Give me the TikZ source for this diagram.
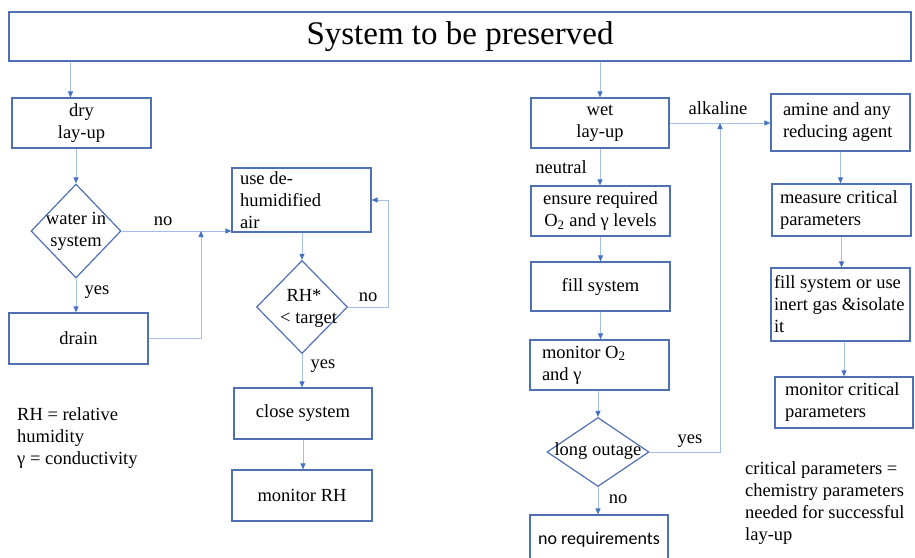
\documentclass[tikz,border=0pt]{standalone}
\usepackage{fontspec}
\setmainfont{Liberation Serif}
\newfontfamily\calfont{Carlito}
\usetikzlibrary{shapes.geometric,arrows.meta,positioning}
\definecolor{boxblue}{HTML}{4F70B4}
\definecolor{lineblue}{HTML}{A6BFE8}
\definecolor{tipblue}{HTML}{4472C4}
\tikzset{
  box/.style={draw=boxblue,line width=1.2pt,minimum width=139pt,minimum height=50pt,
    inner sep=0pt,align=flush center,font=\fontsize{18.5}{22}\selectfont},
  lbox/.style={box,align=flush left},
  dec/.style={draw=boxblue,line width=1.2pt,diamond,inner sep=0pt},
  txt/.style={inner sep=0pt,align=flush center,font=\fontsize{18.5}{22}\selectfont},
  link/.style={draw=lineblue,line width=0.9pt,-{Triangle[length=6pt,width=5pt,color=tipblue]}}
}
\begin{document}
\begin{tikzpicture}[x=1pt,y=-1pt]
    \useasboundingbox (0,0) rectangle (915,557);
    \node[box,minimum width=902pt,minimum height=49pt,font=\fontsize{33}{38}\selectfont] (title) at (460,36.5) {System to be preserved};

    % dry branch
    \node[box] (dry) at (81.5,123) {dry\\lay-up};
    \node[dec,minimum width=90pt,minimum height=94pt] (water) at (76,231) {};
    \node[txt] (waterT) at (water) {water in\\system};
    \node[box,minimum height=51pt] (drain) at (78.5,338.5) {drain};
    \node[lbox,minimum height=64pt,text width=123pt] (dehum) at (301.5,200) {use de-\\humidified\\air};
    \node[dec,minimum width=91pt,minimum height=93pt] (rh) at (302,307) {};
    \node[txt] (rhT) at (304,308.5) {RH*\\\,\,\,\textless{} target};
    \node[box,minimum width=138pt,minimum height=51pt] (close) at (303,413.5) {close system};
    \node[box,minimum width=140pt,minimum height=51pt] (monrh) at (302,495.5) {monitor RH};

    % wet branch
    \node[box,minimum width=138pt] (wet) at (600,123) {wet\\lay-up};
    \node[box] (ensure) at (600.5,211) {ensure required\\O\textsubscript{2} and γ levels};
    \node[box,minimum height=49pt] (fill) at (600.5,286.5) {fill system};
    \node[lbox,text width=115pt] (mono) at (599.5,365) {monitor O\textsubscript{2}\\and γ};
    \node[dec,minimum width=102pt,minimum height=69pt] (outage) at (598,452) {};
    \node[txt] (outageT) at (598,451) {long outage};
    \node[box,minimum width=138pt,font=\calfont\fontsize{18}{22}\selectfont] (noreq) at (599,540) {\raisebox{4pt}{no requirements}};

    \node[lbox,minimum height=57pt,text width=115pt] (amine) at (840.5,122.5) {amine and any\\reducing agent};
    \node[lbox,minimum height=52pt,text width=123pt] (measure) at (841.5,210) {measure critical\\parameters};
    \node[lbox,minimum height=73pt,text width=133pt] (fillor) at (840.5,304.5) {fill system or use\\inert gas \&isolate\\it};
    \node[lbox,minimum width=138pt,minimum height=51pt,text width=118pt] (moncrit) at (844,402.5) {monitor critical\\parameters};

    \coordinate (jn) at (201,231);
    \coordinate (alk) at (720,123);

    \draw[link] ([xshift=-11pt]dry.north |- title.south) -- ([xshift=-11pt]dry.north);
    \draw[link] (water.north |- dry.south) -- (water.north);
    \draw[link] (water.south) -- (water.south |- drain.north);
    \draw[link] (water.east) -- (water.east -| dehum.west);
    \draw[link] (drain.east) -| (jn);
    \draw[link] (rh.north |- dehum.south) -- (rh.north);
    \draw[link] (rh.east) -| ([xshift=17pt]dehum.east) -- (dehum.east);
    \draw[link] (rh.south) -- (rh.south |- close.north);
    \draw[link] (close.south) -- (close.south |- monrh.north);

    \draw[link] (wet.north |- title.south) -- (wet.north);
    \draw[link] (wet.east) -- (wet.east -| amine.west);
    \draw[link] (wet.south) -- (wet.south |- ensure.north);
    \draw[link] (ensure.south) -- (ensure.south |- fill.north);
    \draw[link] (fill.south) -- (fill.south |- mono.north);
    \draw[link] (outage.north |- mono.south) -- (outage.north);
    \draw[link] (outage.south) -- (outage.south |- noreq.north);
    \draw[link] (outage.east) -| (alk);
    \draw[link] (amine.south) -- (amine.south |- measure.north);
    \draw[link] (measure.south) -- (measure.south |- fillor.north);
    \draw[link] ([xshift=3.5pt]fillor.south) -- ([xshift=3.5pt]fillor.south |- moncrit.north);

    % branch labels
    \node[txt] (lno1) at (163,221) {no};
    \node[txt] (lyes1) at (97,292) {yes};
    \node[txt] (lno2) at (368,297) {no};
    \node[txt] (lyes2) at (323,366) {yes};
    \node[txt] (lalk) at (718,108) {alkaline};
    \node[txt] (lneu) at (561,167) {neutral};
    \node[txt] (lyes3) at (690,441) {yes};
    \node[txt] (lno3) at (618,499) {no};

    \node[txt,anchor=west,align=flush left] (legend) at (17,438) {RH = relative\\humidity\\γ = conductivity};
    \node[txt,anchor=west,align=flush left] (note) at (745,503.5) {critical parameters =\\chemistry parameters\\needed for successful\\lay-up};
\end{tikzpicture}
\end{document}
